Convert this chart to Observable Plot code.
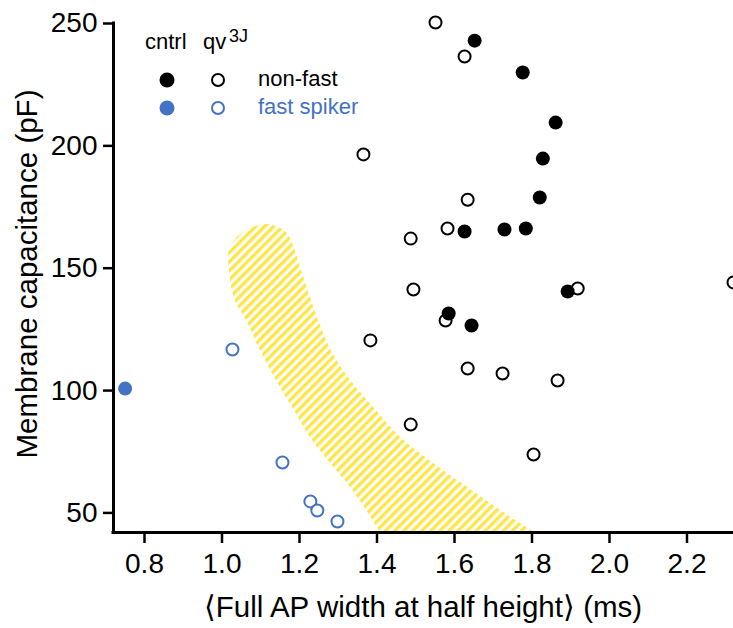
<!DOCTYPE html>
<html><head><meta charset="utf-8">
<script src="https://cdn.jsdelivr.net/npm/d3@7"></script>
<script src="https://cdn.jsdelivr.net/npm/@observablehq/plot@0.6"></script>
<style>html,body{margin:0;padding:0;background:#fff;overflow:hidden} svg{display:block}</style>
</head><body><div id="chart"></div>
<script>
// cntrl, non-fast (filled black)
const ctrlNonFastX = [1.652, 1.776, 1.861, 1.828, 1.820, 1.626, 1.729, 1.784, 1.585, 1.644, 1.892];
const ctrlNonFastY = [243, 230, 209.5, 194.8, 178.9, 165, 165.8, 166.2, 131.5, 126.6, 140.5];
// qv3J, non-fast (open black)
const qvNonFastX = [1.551, 1.626, 1.365, 1.634, 1.582, 1.487, 1.494, 1.918, 2.32, 1.577, 1.383, 1.634, 1.724, 1.866, 1.487, 1.804];
const qvNonFastY = [250.4, 236.5, 196.5, 178, 166.2, 162.1, 141.3, 141.7, 144.2, 128.6, 120.5, 109, 107, 104.1, 86.1, 73.9];
// cntrl, fast spiker (filled blue)
const ctrlFastX = [0.750];
const ctrlFastY = [100.8];
// qv3J, fast spiker (open blue)
const qvFastX = [1.027, 1.156, 1.228, 1.246, 1.298];
const qvFastY = [116.8, 70.6, 54.7, 51, 46.5];
// hatched separation band
const bandY = [167.9, 165.4, 162.1, 157.2, 149.1, 136.8, 128.6, 116.4, 104.1, 91.8, 80.8, 70.2, 60.4, 51.0, 42.0];
const bandLeft = [1.104, 1.063, 1.037, 1.019, 1.019, 1.034, 1.063, 1.099, 1.140, 1.187, 1.228, 1.280, 1.332, 1.373, 1.409];
const bandRight = [1.125, 1.161, 1.176, 1.189, 1.205, 1.231, 1.249, 1.282, 1.332, 1.399, 1.461, 1.546, 1.634, 1.719, 1.807];
// ticks
const xTicks = [0.8, 1.0, 1.2, 1.4, 1.6, 1.8, 2.0, 2.2];
const yTicks = [50, 100, 150, 200, 250];

const W = 733, H = 628;
const xDom = [0.72, 2.32], yDom = [42, 250];
const blue = "#4472c4";
const FONT = "'Liberation Sans', Arial, sans-serif";
const rows = (xs, ys) => xs.map((x, i) => ({x, y: ys[i]}));
const band = bandY.map((y, i) => ({y, x1: bandLeft[i], x2: bandRight[i]}));

const svg = Plot.plot({
  width: W, height: H,
  marginLeft: 113, marginRight: 0, marginTop: 23, marginBottom: 96,
  x: {domain: xDom},
  y: {domain: yDom},
  style: {fontFamily: FONT, fontSize: "28px", color: "#000", background: "#fff"},
  marks: [
    Plot.areaX(band, {y: "y", x1: "x1", x2: "x2", fill: "url(#hatch)", curve: "catmull-rom"}),
    Plot.dot(rows(qvNonFastX, qvNonFastY), {x: "x", y: "y", r: 6, stroke: "#000", strokeWidth: 2, fill: "#fff"}),
    Plot.dot(rows(qvFastX, qvFastY), {x: "x", y: "y", r: 6, stroke: blue, strokeWidth: 2, fill: "#fff"}),
    Plot.dot(rows(ctrlNonFastX, ctrlNonFastY), {x: "x", y: "y", r: 7, fill: "#000"}),
    Plot.dot(rows(ctrlFastX, ctrlFastY), {x: "x", y: "y", r: 7, fill: blue}),
    Plot.axisX({ticks: xTicks, tickFormat: d3.format(".1f"), tickSize: 11, tickPadding: 10, strokeWidth: 2.5, label: null}),
    Plot.axisY({ticks: yTicks, tickSize: 10, tickPadding: 6, strokeWidth: 2.5, label: null}),
    Plot.ruleX([xDom[0]], {strokeWidth: 3, strokeLinecap: "square"}),
    Plot.ruleY([yDom[0]], {strokeWidth: 3, strokeLinecap: "square"})
  ]
});

const s = d3.select(svg);
const defs = s.insert("defs", ":first-child");
const pat = defs.append("pattern").attr("id", "hatch")
  .attr("patternUnits", "userSpaceOnUse").attr("width", 6.4).attr("height", 6.4)
  .attr("patternTransform", "rotate(45)");
pat.append("rect").attr("width", 3.3).attr("height", 6.4).attr("fill", "#ffe546");

// axis titles
s.append("text").attr("x", 423).attr("y", 617).attr("text-anchor", "middle")
  .attr("font-size", 29.5).attr("fill", "#000").text("\u27E8Full AP width at half height\u27E9 (ms)");
s.append("text").attr("transform", "translate(37,274) rotate(-90)").attr("text-anchor", "middle")
  .attr("font-size", 29.5).attr("fill", "#000").text("Membrane capacitance (pF)");

// legend
const lg = s.append("g").attr("font-size", 22).attr("text-anchor", "start");
lg.append("text").attr("x", 145).attr("y", 49).text("cntrl");
lg.append("text").attr("x", 203).attr("y", 49).text("qv");
lg.append("text").attr("x", 229).attr("y", 42).attr("font-size", 18).text("3J");
lg.append("circle").attr("cx", 167).attr("cy", 80).attr("r", 7.5).attr("fill", "#000");
lg.append("circle").attr("cx", 218).attr("cy", 80).attr("r", 6).attr("fill", "#fff").attr("stroke", "#000").attr("stroke-width", 2);
lg.append("circle").attr("cx", 167).attr("cy", 108).attr("r", 7.5).attr("fill", blue);
lg.append("circle").attr("cx", 218).attr("cy", 108).attr("r", 6).attr("fill", "#fff").attr("stroke", blue).attr("stroke-width", 2);
lg.append("text").attr("x", 258).attr("y", 86).text("non-fast");
lg.append("text").attr("x", 258).attr("y", 114).attr("fill", blue).text("fast spiker");

document.getElementById("chart").appendChild(svg);
</script>
</body></html>
